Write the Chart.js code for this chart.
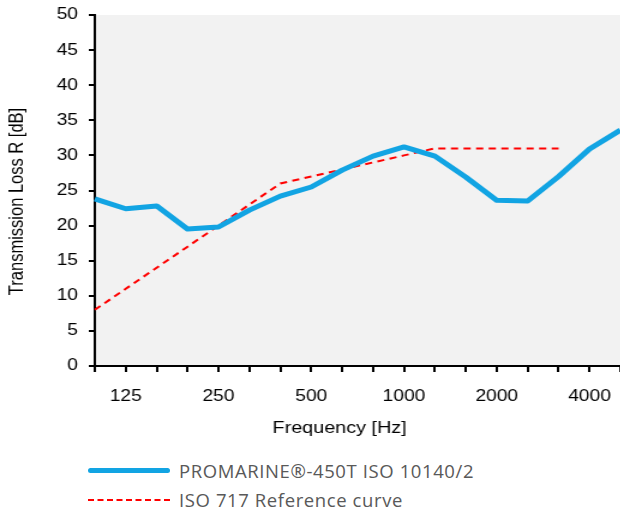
<!DOCTYPE html>
<html lang="en">
<head>
    <meta charset="UTF-8">
    <title>Transmission Loss</title>
    <script src="https://cdn.jsdelivr.net/npm/chart.js@4.4.0/dist/chart.umd.min.js"></script>
    <style>
        body {
            margin: 0;
            background: #ffffff;
            width: 620px;
            height: 514px;
            overflow: hidden;
        }
        #wrap {
            position: relative;
            width: 620px;
            height: 446px;
        }
        /* the original picture is stretched sideways, so the canvas is too */
        #chart {
            transform: scaleX(1.2);
            transform-origin: 0 0;
        }
        #legend {
            position: absolute;
            left: 88px;
            top: 456px;
            font-family: 'Open Sans', sans-serif;
            font-size: 18.5px;
            letter-spacing: 0.6px;
            color: #595959;
        }
        .item {
            display: flex;
            align-items: center;
            height: 29px;
        }
        .swatch {
            width: 82px;
            margin-right: 9px;
        }
        .solid { border-top: 5px solid #12a4e3; border-radius: 3px; }
        .dashed { border-top: 2px dashed #ff0000; }
    </style>
</head>
<body>
<div id="wrap"><canvas id="chart" width="517" height="446" style="width:517px;height:446px"></canvas></div>
<div id="legend">
    <div class="item"><div class="swatch solid"></div><span>PROMARINE®-450T ISO 10140/2</span></div>
    <div class="item"><div class="swatch dashed"></div><span>ISO 717 Reference curve</span></div>
</div>
<script>
    // third-octave bands
    var frequencies = ['100', '125', '160', '200', '250', '315', '400', '500', '630', '800',
                       '1000', '1250', '1600', '2000', '2500', '3150', '4000', '5000'];
    var shownLabels = ['125', '250', '500', '1000', '2000', '4000'];
    var measured = [23.8, 22.4, 22.8, 19.5, 19.8, 22.2, 24.2, 25.5, 27.9, 29.9,
                    31.2, 29.9, 26.9, 23.6, 23.5, 27.0, 30.9, 33.6];
    var reference = [8, 11, 14, 17, 20, 23, 26, 27, 28, 29,
                     30, 31, 31, 31, 31, 31, null, null];
    var yTicks = [0, 5, 10, 15, 20, 25, 30, 35, 40, 45, 50];

    var axisFont = "16.5px 'Liberation Sans', Arial, sans-serif";

    // grey plot area + axis titles (the titles sit a bit off-centre in the original)
    var plotBg = {
        id: 'plotBg',
        beforeDraw: function(chart) {
            var a = chart.chartArea;
            var ctx = chart.ctx;
            ctx.save();
            ctx.fillStyle = '#f2f2f2';
            ctx.fillRect(a.left, a.top, a.right - a.left, a.bottom - a.top);
            ctx.restore();
        },
        afterDraw: function(chart) {
            var a = chart.chartArea;
            var ctx = chart.ctx;
            ctx.save();
            ctx.fillStyle = '#000';
            ctx.font = axisFont;
            ctx.textAlign = 'center';
            ctx.textBaseline = 'middle';
            ctx.fillText('Frequency [Hz]', (a.left + a.right) / 2 - 15, a.bottom + 62);
            ctx.translate(14.5, (a.top + a.bottom) / 2 + 11);
            ctx.rotate(-Math.PI / 2);
            ctx.fillText('Transmission Loss R [dB]', 0, 0);
            ctx.restore();
        }
    };

    var tickFont = { family: "'Liberation Sans', Arial, sans-serif", size: 16 };

    new Chart(document.getElementById('chart'), {
        type: 'line',
        data: {
            labels: frequencies,
            datasets: [{
                label: 'PROMARINE®-450T ISO 10140/2',
                data: measured,
                borderColor: '#12a4e3',
                borderWidth: 5,
                pointRadius: 0,
                tension: 0,
                borderJoinStyle: 'round'
            }, {
                label: 'ISO 717 Reference curve',
                data: reference,
                borderColor: '#ff0000',
                borderWidth: 2,
                borderDash: [6, 4.5],
                pointRadius: 0,
                tension: 0
            }]
        },
        options: {
            responsive: false,
            animation: false,
            devicePixelRatio: 1,
            layout: { padding: { top: 15, right: 0, left: 0, bottom: 0 } },
            plugins: {
                legend: { display: false },
                tooltip: { enabled: false }
            },
            scales: {
                x: {
                    offset: false,
                    border: { color: '#000', width: 2 },
                    grid: { display: true, drawOnChartArea: false, drawTicks: true, tickLength: 6, color: '#000', lineWidth: 2 },
                    ticks: {
                        autoSkip: false,
                        maxRotation: 0,
                        color: '#000',
                        font: tickFont,
                        padding: 15,
                        callback: function(v, i) {
                            return shownLabels.indexOf(frequencies[i]) >= 0 ? frequencies[i] : '';
                        }
                    },
                    afterFit: function(s) { s.height = 80; s.paddingLeft = 0; s.paddingRight = 0; }
                },
                y: {
                    min: 0,
                    max: 50,
                    afterBuildTicks: function(s) { s.ticks = yTicks.map(function(v) { return { value: v }; }); },
                    border: { color: '#000', width: 2 },
                    grid: { display: true, drawOnChartArea: false, drawTicks: true, tickLength: 5, color: '#000', lineWidth: 2 },
                    ticks: { color: '#000', font: tickFont, padding: 9 },
                    afterFit: function(s) { s.width = 79; s.paddingTop = 0; s.paddingBottom = 0; }
                }
            }
        },
        plugins: [plotBg]
    });
</script>
</body>
</html>
